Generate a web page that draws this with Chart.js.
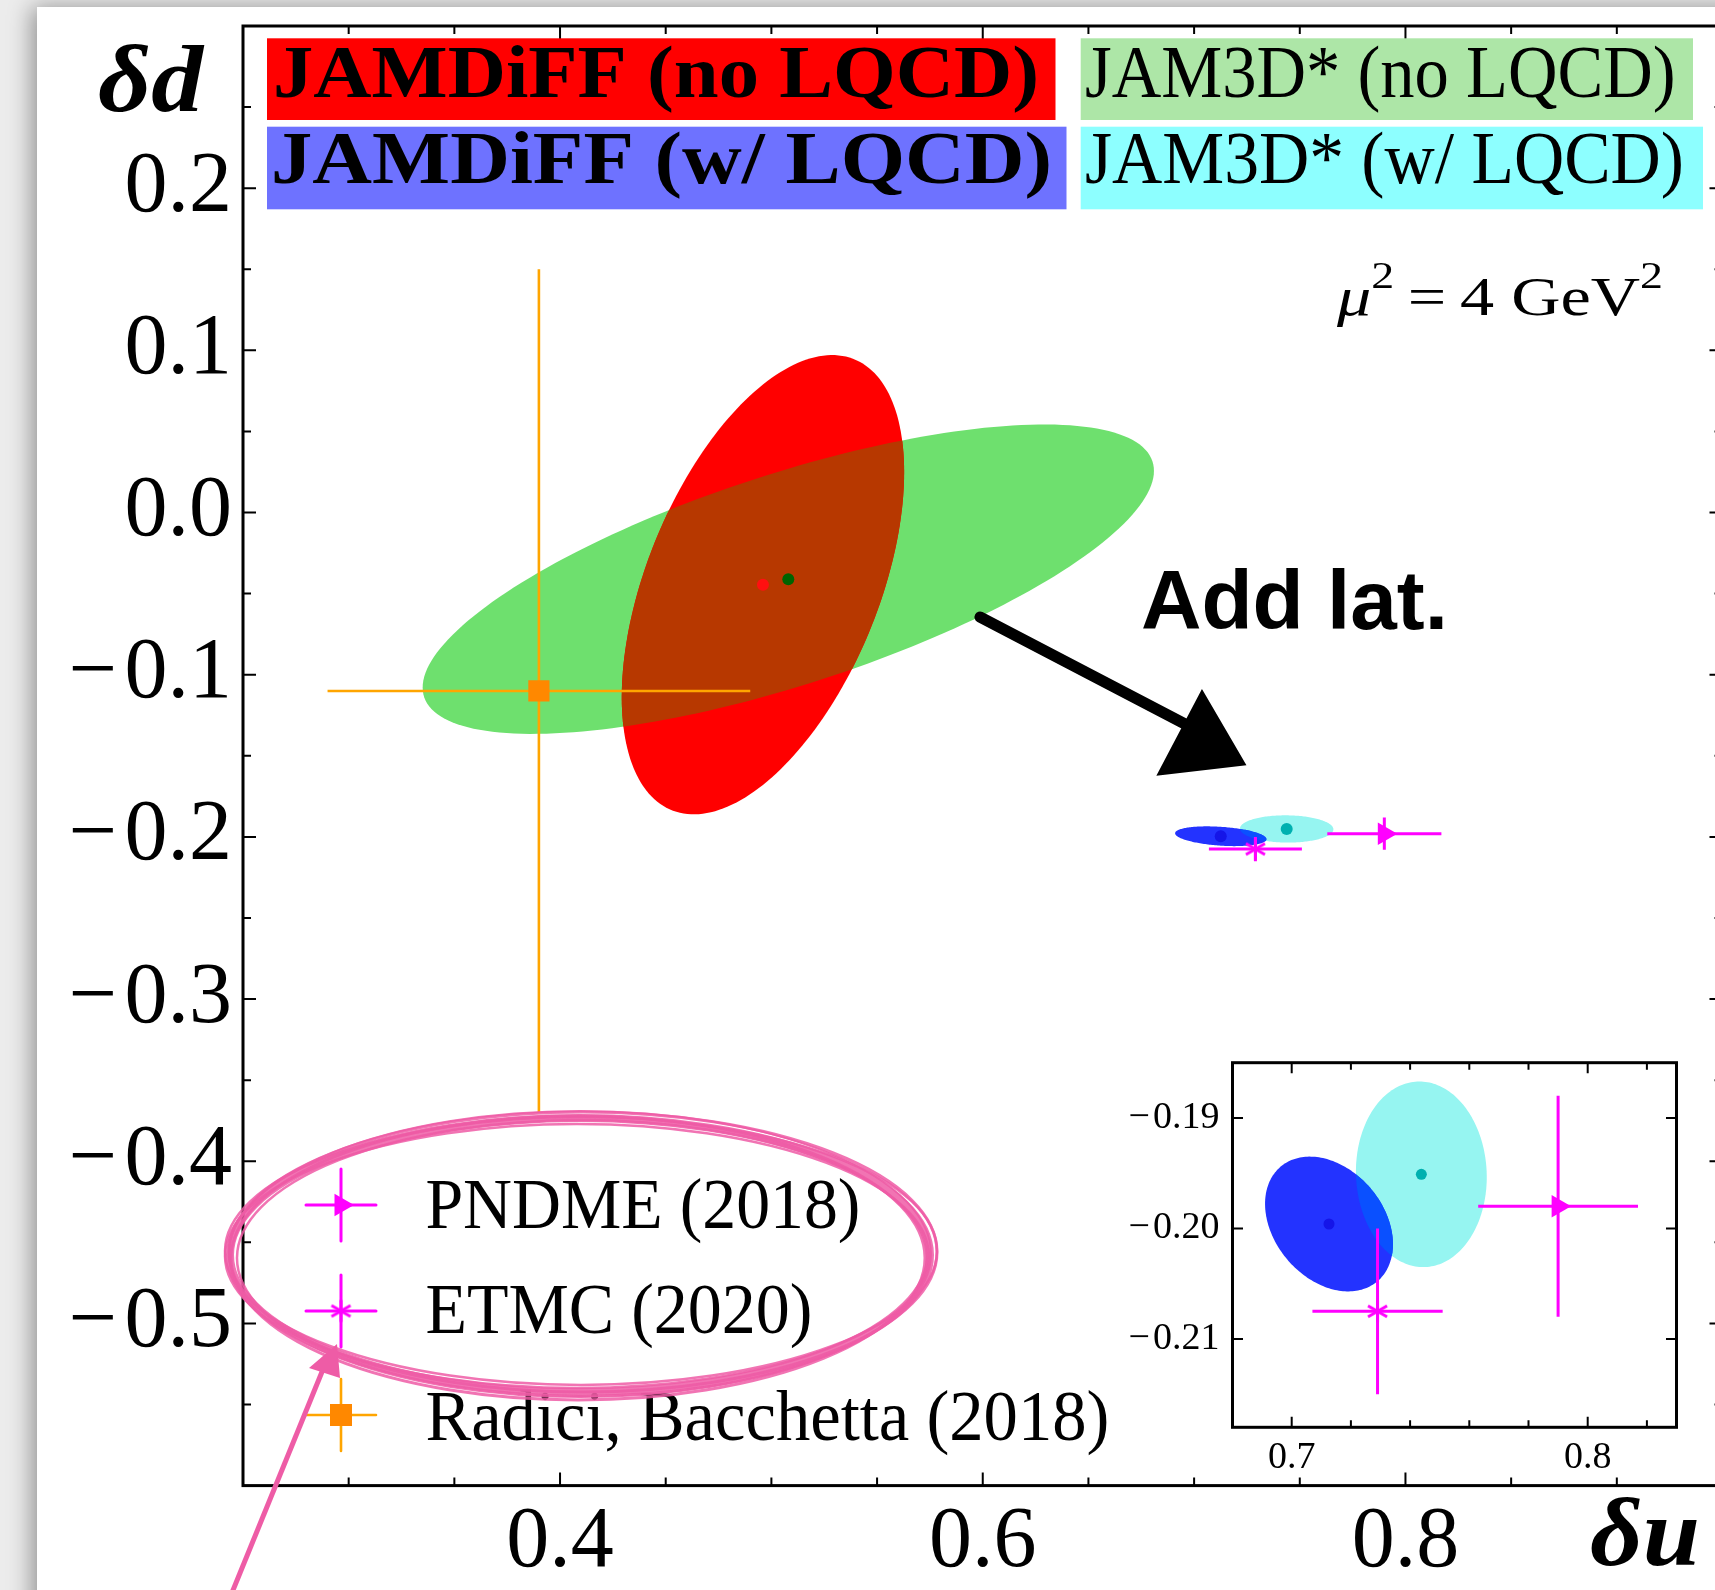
<!DOCTYPE html>
<html><head><meta charset="utf-8">
<script src="https://cdn.jsdelivr.net/npm/chart.js@4.4.1/dist/chart.umd.min.js"></script>
<style>
html,body{margin:0;padding:0;width:1715px;height:1590px;overflow:hidden;background:#ececec;}
#wrap{position:relative;width:1715px;height:1590px;overflow:hidden;}
#card{position:absolute;left:37px;top:7px;width:1760px;height:1680px;background:#fff;box-shadow:-5px 0 22px rgba(0,0,0,0.38);}
#main{position:absolute;left:0;top:0;}
#inset{position:absolute;left:1100px;top:1040px;}
</style></head><body>
<div id="wrap"><div id="card"></div>
<canvas id="main" width="1740" height="1590"></canvas>
<canvas id="inset" width="600" height="450"></canvas>
</div>
<script>
// ================= DATA =================
const fitNames  = ['JAMDiFF (no LQCD)', 'JAM3D* (no LQCD)', 'JAMDiFF (w/ LQCD)', 'JAM3D* (w/ LQCD)'];
const fitDeltaU = [0.496, 0.508, 0.7126, 0.7438];
const fitDeltaD = [-0.0445, -0.0411, -0.1996, -0.1951];
const fitSigmaU = [0.0668, 0.173, 0.0216, 0.0221];
const fitSigmaD = [0.1416, 0.0954, 0.0061, 0.0084];
const fitRho    = [0.49, 0.70, -0.30, -0.03];

const refNames  = ['PNDME (2018)', 'ETMC (2020)', 'Radici, Bacchetta (2018)'];
const refDeltaU = [0.790, 0.729, 0.39];
const refErrU   = [0.027, 0.022, 0.10];
const refDeltaD = [-0.198, -0.2075, -0.11];
const refErrD   = [0.010, 0.0075, 0.26];

const mainXTicks  = [0.4, 0.6, 0.8];
const mainXMinor  = [0.3, 0.35, 0.45, 0.5, 0.55, 0.65, 0.7, 0.75, 0.85, 0.9];
const mainYTicks  = [-0.5, -0.4, -0.3, -0.2, -0.1, 0.0, 0.1, 0.2];
const mainYMinor  = [-0.55, -0.45, -0.35, -0.25, -0.15, -0.05, 0.05, 0.15, 0.25];
const insetXTicks = [0.7, 0.8];
const insetXMinor = [0.72, 0.74, 0.76, 0.78, 0.82];
const insetYTicks = [-0.21, -0.20, -0.19];

// ================= STYLE =================
const fitFill  = ['#ff0000', '#6ee06e', '#2333ff', '#96f5f1'];
const fitDot   = ['#ff1010', '#006400', '#1515e8', '#00b0b0'];
const fitBox   = ['#ff0000', '#ade6a7', '#6e72ff', '#8dffff'];
const fitBold  = [true, false, true, false];
const drawOrder = [1, 0, 3, 2];
const overlaps = [[1, 0, '#b73800'], [3, 2, '#0a50ff']];
const refLine  = ['#ff00ff', '#ff00ff', '#ffa500'];
const refMark  = ['#ff00ff', '#ff00ff', '#ff8800'];
const refLW    = [3, 3, 2.6];
const SERIF = "'Liberation Serif', 'DejaVu Serif', serif";
const SANS = "'Liberation Sans', Arial, sans-serif";

function makeAsterisk(r, color, lw) {
  const s = Math.ceil(2 * r + lw + 2);
  const c = document.createElement('canvas'); c.width = s; c.height = s;
  const g = c.getContext('2d'); g.strokeStyle = color; g.lineWidth = lw;
  const m = s / 2;
  [90, 30, 150].forEach(a => { const t = a * Math.PI / 180;
    g.beginPath(); g.moveTo(m - r * Math.cos(t), m - r * Math.sin(t)); g.lineTo(m + r * Math.cos(t), m + r * Math.sin(t)); g.stroke(); });
  return c;
}
const asterisk = makeAsterisk(11, '#ff00ff', 3);
const refStyle = ['triangle', asterisk, 'rect'];
const refRot   = [90, 0, 0];
const refRad   = [13, 11, 15];

function fmt(v, d) { return (v < -1e-9 ? '\u2212\u200a' : '') + Math.abs(v).toFixed(d); }

function ellipsePath(ctx, xs, ys, i) {
  const N = 200, r = fitRho[i], q = Math.sqrt(1 - r * r);
  ctx.beginPath();
  for (let k = 0; k <= N; k++) {
    const t = 2 * Math.PI * k / N;
    const u = fitDeltaU[i] + fitSigmaU[i] * Math.cos(t);
    const d = fitDeltaD[i] + fitSigmaD[i] * (r * Math.cos(t) + q * Math.sin(t));
    const px = xs.getPixelForValue(u), py = ys.getPixelForValue(d);
    if (k === 0) ctx.moveTo(px, py); else ctx.lineTo(px, py);
  }
  ctx.closePath();
}

function drawEllipsesAndBars(chart) {
  const ctx = chart.ctx, a = chart.chartArea, xs = chart.scales.x, ys = chart.scales.y;
  ctx.save();
  ctx.beginPath(); ctx.rect(a.left, a.top, a.right - a.left, a.bottom - a.top); ctx.clip();
  drawOrder.forEach(i => { ellipsePath(ctx, xs, ys, i); ctx.fillStyle = fitFill[i]; ctx.fill(); });
  overlaps.forEach(([i, j, col]) => {
    ctx.save(); ellipsePath(ctx, xs, ys, i); ctx.clip();
    ellipsePath(ctx, xs, ys, j); ctx.fillStyle = col; ctx.fill(); ctx.restore();
  });
  refNames.forEach((n, i) => {
    ctx.strokeStyle = refLine[i]; ctx.lineWidth = refLW[i];
    const cx = xs.getPixelForValue(refDeltaU[i]), cy = ys.getPixelForValue(refDeltaD[i]);
    ctx.beginPath();
    ctx.moveTo(xs.getPixelForValue(refDeltaU[i] - refErrU[i]), cy);
    ctx.lineTo(xs.getPixelForValue(refDeltaU[i] + refErrU[i]), cy);
    ctx.moveTo(cx, ys.getPixelForValue(refDeltaD[i] - refErrD[i]));
    ctx.lineTo(cx, ys.getPixelForValue(refDeltaD[i] + refErrD[i]));
    ctx.stroke();
  });
  ctx.restore();
}

function drawFrame(chart, xMaj, xMin, yMaj, yMin, majL, minL) {
  const ctx = chart.ctx, a = chart.chartArea, xs = chart.scales.x, ys = chart.scales.y;
  ctx.save(); ctx.strokeStyle = '#000'; ctx.lineWidth = 2;
  ctx.beginPath();
  const xt = (v, L) => { const p = xs.getPixelForValue(v); ctx.moveTo(p, a.bottom); ctx.lineTo(p, a.bottom - L); ctx.moveTo(p, a.top); ctx.lineTo(p, a.top + L); };
  const yt = (v, L) => { const p = ys.getPixelForValue(v); ctx.moveTo(a.left, p); ctx.lineTo(a.left + L, p); ctx.moveTo(a.right, p); ctx.lineTo(a.right - L, p); };
  xMaj.forEach(v => xt(v, majL)); xMin.forEach(v => xt(v, minL));
  yMaj.forEach(v => yt(v, majL)); yMin.forEach(v => yt(v, minL));
  ctx.stroke();
  ctx.lineWidth = 3; ctx.strokeRect(a.left, a.top, a.right - a.left, a.bottom - a.top);
  ctx.restore();
}

function fitText(ctx, str, x, y, w, font) {
  ctx.font = font; const m = ctx.measureText(str).width;
  ctx.save(); ctx.translate(x, y); ctx.scale(w / m, 1); ctx.fillText(str, 0, 0); ctx.restore();
}

function drawDecor(chart) {
  const ctx = chart.ctx;
  ctx.save(); ctx.textAlign = 'left'; ctx.textBaseline = 'alphabetic'; ctx.fillStyle = '#000';
  // top legend boxes
  const boxes = [[267, 38.3, 788.5, 81.7, 273, 96.7, 766], [1080.7, 38.3, 612.3, 81.7, 1085, 96.7, 590.6],
                 [267, 126.7, 799.5, 82.6, 271, 183.3, 781], [1080.7, 126.7, 622.3, 82.6, 1085, 183.3, 599]];
  boxes.forEach((b, i) => {
    ctx.fillStyle = fitBox[i]; ctx.fillRect(b[0], b[1], b[2], b[3]);
    ctx.fillStyle = '#000';
    fitText(ctx, fitNames[i], b[4], b[5], b[6], (fitBold[i] ? 'bold ' : '') + '73px ' + SERIF);
  });
  // axis titles
  fitText(ctx, '\u03b4d', 98, 111, 105, 'italic bold 96px ' + SERIF);
  fitText(ctx, '\u03b4u', 1590, 1565, 110, 'italic bold 98px ' + SERIF);
  // mu^2 = 4 GeV^2
  (function () {
    const parts = [['\u03bc', 'italic 55px ' + SERIF, 0], ['2', '37px ' + SERIF, -27], ['\u2009=\u20094 GeV', '55px ' + SERIF, 0], ['2', '37px ' + SERIF, -27]];
    let tot = 0; parts.forEach(p => { ctx.font = p[1]; tot += ctx.measureText(p[0]).width; });
    const sx = 326 / tot;
    ctx.save(); ctx.translate(1337, 315); ctx.scale(sx, 1); let cx = 0;
    parts.forEach(p => { ctx.font = p[1]; ctx.fillText(p[0], cx, p[2]); cx += ctx.measureText(p[0]).width; });
    ctx.restore();
  })();
  // Add lat.
  fitText(ctx, 'Add lat.', 1141, 629, 307, 'bold 84px ' + SANS);
  // hand-drawn black arrow
  ctx.strokeStyle = '#000'; ctx.fillStyle = '#000'; ctx.lineCap = 'round';
  [[0, 0, 11], [1.5, -2, 4], [-1.5, 2.5, 4]].forEach(o => {
    ctx.lineWidth = o[2]; ctx.beginPath(); ctx.moveTo(980 + o[0], 617 + o[1]); ctx.lineTo(1185 + o[0], 724 + o[1]); ctx.stroke();
  });
  ctx.beginPath(); ctx.moveTo(1202, 692); ctx.lineTo(1244, 764); ctx.lineTo(1159, 774); ctx.closePath(); ctx.fill();
  ctx.lineWidth = 3; ctx.stroke();
  // bottom legend
  const rowsY = [1205, 1311, 1415], txtB = [1228.3, 1333.3, 1440], txtW = [435, 387, 684];
  refNames.forEach((n, i) => {
    const mx = 341, my = rowsY[i];
    ctx.strokeStyle = refLine[i]; ctx.lineWidth = refLW[i];
    ctx.beginPath(); ctx.moveTo(mx - 35, my); ctx.lineTo(mx + 35, my); ctx.moveTo(mx, my - 36); ctx.lineTo(mx, my + 36); ctx.stroke();
    ctx.fillStyle = refMark[i];
    if (i === 0) { const r = 13; ctx.beginPath(); ctx.moveTo(mx + r, my); ctx.lineTo(mx - r / 2, my - r * 0.866); ctx.lineTo(mx - r / 2, my + r * 0.866); ctx.closePath(); ctx.fill(); }
    else if (i === 1) { ctx.drawImage(asterisk, mx - asterisk.width / 2, my - asterisk.height / 2); }
    else { ctx.fillRect(mx - 11, my - 11, 22, 22); }
    ctx.fillStyle = '#000';
    fitText(ctx, n, 425.4, txtB[i], txtW[i], '71px ' + SERIF);
  });
  // pink hand-drawn loop and arrow
  ctx.strokeStyle = 'rgba(238,92,166,0.85)';
  [[0, 0, 0, 0, 8], [3, -3, 4, 3, 3], [-2, 3, -3, 5, 3], [1, -4, 6, -3, 2.5], [-3, 1, 2, -5, 2.5], [2, 3, -5, 1, 2.5], [0, -1, 1, 6, 2]].forEach(o => {
    ctx.lineWidth = o[4]; ctx.beginPath(); ctx.ellipse(580 + o[0], 1255 + o[1], 350 + o[2], 137 + o[3], 0, 0, 2 * Math.PI); ctx.stroke();
  });
  ctx.strokeStyle = '#ee5ca6'; ctx.fillStyle = '#ee5ca6'; ctx.lineWidth = 5; ctx.lineCap = 'butt';
  ctx.beginPath(); ctx.moveTo(229, 1600); ctx.lineTo(326, 1362); ctx.stroke();
  ctx.beginPath(); ctx.moveTo(337, 1344); ctx.lineTo(340, 1378); ctx.lineTo(309, 1368); ctx.closePath(); ctx.fill();
  ctx.restore();
}

function buildDatasets(dotR) {
  const ds = [];
  fitNames.forEach((n, i) => ds.push({ label: n, data: [{ x: fitDeltaU[i], y: fitDeltaD[i] }], pointRadius: dotR, pointHoverRadius: dotR,
    pointBackgroundColor: fitDot[i], pointBorderWidth: 0, clip: 0 }));
  refNames.forEach((n, i) => ds.push({ label: n, data: [{ x: refDeltaU[i], y: refDeltaD[i] }], pointStyle: refStyle[i], pointRotation: refRot[i],
    pointRadius: refRad[i], pointHoverRadius: refRad[i], pointBackgroundColor: refMark[i], pointBorderWidth: 0, clip: 0 }));
  return ds;
}

function axis(min, max, ticks, dec, size, pad, fitW, fitH) {
  const o = { type: 'linear', min: min, max: max,
    grid: { display: false, drawTicks: false }, border: { display: false },
    ticks: { autoSkip: false, maxRotation: 0, minRotation: 0, padding: pad, color: '#000',
      font: { family: SERIF, size: size }, callback: v => fmt(v, dec) },
    afterBuildTicks: s => { s.ticks = ticks.map(v => ({ value: v })); } };
  if (fitW !== undefined) o.afterFit = s => { s.width = fitW; s.paddingTop = 0; s.paddingBottom = 0; };
  if (fitH !== undefined) o.afterFit = s => { s.height = fitH; s.paddingLeft = 0; s.paddingRight = 0; };
  return o;
}

new Chart(document.getElementById('main'), {
  type: 'scatter',
  data: { datasets: buildDatasets(6) },
  options: {
    responsive: false, animation: false, events: [],
    layout: { padding: { top: 26, right: 17.5, left: 0, bottom: 0 } },
    plugins: { legend: { display: false }, tooltip: { enabled: false } },
    scales: {
      x: axis(0.25, 0.95, mainXTicks, 1, 86, 6, undefined, 104.4),
      y: axis(-0.6, 0.3, mainYTicks, 1, 86, 11, 243, undefined)
    }
  },
  plugins: [{ id: 'mainDecor',
    beforeDatasetsDraw: c => drawEllipsesAndBars(c),
    afterDraw: c => { drawFrame(c, mainXTicks, mainXMinor, mainYTicks, mainYMinor, 13, 8); drawDecor(c); } }]
});

new Chart(document.getElementById('inset'), {
  type: 'scatter',
  data: { datasets: buildDatasets(5.5) },
  options: {
    responsive: false, animation: false, events: [],
    layout: { padding: { top: 22.7, right: 23.5, left: 0, bottom: 0 } },
    plugins: { legend: { display: false }, tooltip: { enabled: false } },
    scales: {
      x: axis(0.68, 0.83, insetXTicks, 1, 38, 8, undefined, 62.7),
      y: axis(-0.218, -0.185, insetYTicks, 2, 38, 13, 132.5, undefined)
    }
  },
  plugins: [{ id: 'insetDecor',
    beforeDraw: c => { const a = c.chartArea; c.ctx.save(); c.ctx.fillStyle = '#fff'; c.ctx.fillRect(a.left, a.top, a.right - a.left, a.bottom - a.top); c.ctx.restore(); },
    beforeDatasetsDraw: c => drawEllipsesAndBars(c),
    afterDraw: c => drawFrame(c, insetXTicks, insetXMinor, insetYTicks, [], 10.5, 7) }]
});
</script></body></html>
